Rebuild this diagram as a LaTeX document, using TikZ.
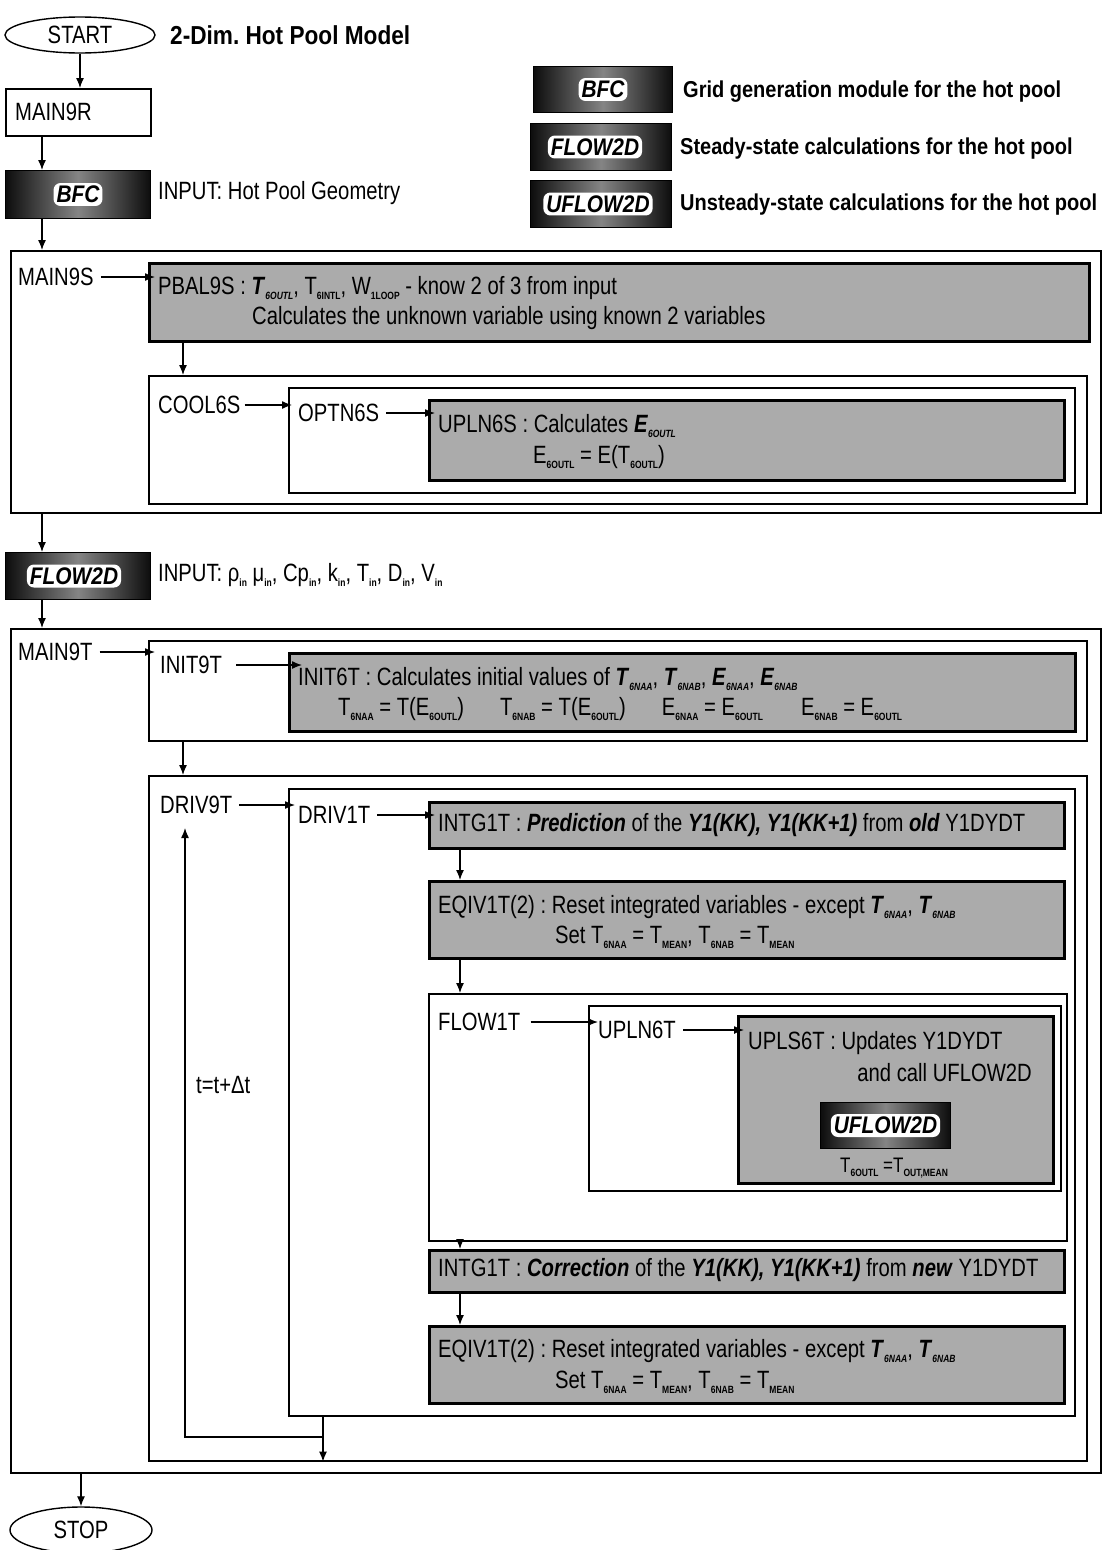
\documentclass[tikz,border=0pt]{standalone}
\usepackage{fontspec}
\setmainfont[FakeStretch=0.81]{Liberation Sans}
\newfontfamily\bfam[FakeStretch=0.87]{Liberation Sans}
\usetikzlibrary{shapes.geometric,arrows.meta}
\frenchspacing
\newcommand\subtxt[1]{\raisebox{-0.35ex}{\fontsize{10.5}{10.5}\selectfont\bfseries #1}}
\newcommand\bit[1]{\textbf{\textit{#1}}}
\tikzset{
 x=1pt,y=-1pt,
 wbox/.style={draw, line width=1.6pt, fill=white, anchor=north west, inner sep=0pt},
 gbox/.style={draw, line width=2.6pt, fill=black!33, anchor=north west, inner sep=0pt},
 mbox/.style={anchor=north west, inner sep=0pt, left color=black!95, right color=black!95, middle color=black!48, draw=black, line width=1pt},
 mlabel/.style={fill=white, rounded corners=7pt, inner sep=3pt, font=\bfam\fontsize{24}{24}\selectfont\bfseries\itshape},
 txt/.style={anchor=west, inner sep=0pt, font=\fontsize{25}{25}\selectfont},
 btxt/.style={anchor=west, inner sep=0pt, font=\bfam\fontsize{23}{23}\selectfont\bfseries},
 arr/.style={-{Latex[length=10pt,width=8pt]}, line width=1.3pt},
 term/.style={ellipse, draw, line width=1.4pt, inner sep=0pt, font=\fontsize{25}{25}\selectfont},
}
\begin{document}
\begin{tikzpicture}
\fill[white] (0,0) rectangle (1105,1550);
\useasboundingbox (0,0) rectangle (1105,1550);

% ---------- top part ----------
\node[term, minimum width=150pt, minimum height=36pt] (start) at (80,35) {START};
\node[btxt, font=\bfam\fontsize{26}{26}\selectfont\bfseries] (title) at (170,35) {2-Dim. Hot Pool Model};

\node[wbox, minimum width=145pt, minimum height=47pt] (main9r) at (5,88) {};
\node[txt] (main9rT) at (15,112) {MAIN9R};
\draw[arr] (start.south) -- (start.south |- main9r.north);

\node[mbox, minimum width=145pt, minimum height=48pt] (bfc) at (5,170) {};
\node[mlabel] (bfcL) at (bfc.center) {BFC};
\node[txt] (bfcIn) at (158,193) {INPUT: Hot Pool Geometry};
\coordinate (c1) at ([xshift=37pt]main9r.south west);
\draw[arr] (c1) -- (c1 |- bfc.north);

% legend
\node[mbox, minimum width=139pt, minimum height=46pt] (lg1) at (533,66) {};
\node[mlabel] (lg1L) at (lg1.center) {BFC};
\node[btxt] (lg1T) at (683,92) {Grid generation module for the hot pool};
\node[mbox, minimum width=141pt, minimum height=47pt] (lg2) at (530,123) {};
\node[mlabel] (lg2L) at ([xshift=-6pt]lg2.center) {FLOW2D};
\node[btxt] (lg2T) at (680,149) {Steady-state calculations for the hot pool};
\node[mbox, minimum width=141pt, minimum height=47pt] (lg3) at (530,180) {};
\node[mlabel] (lg3L) at ([xshift=-3pt]lg3.center) {UFLOW2D};
\node[btxt] (lg3T) at (680,205) {Unsteady-state calculations for the hot pool};

% ---------- MAIN9S ----------
\node[wbox, minimum width=1090pt, minimum height=262pt] (main9s) at (10,250) {};
\coordinate (c2) at ([xshift=37pt]bfc.south west);
\draw[arr] (c2) -- (c2 |- main9s.north);
\node[txt] (main9sT) at (18,277) {MAIN9S};
\node[gbox, minimum width=940pt, minimum height=78pt] (pbal) at (148,262) {};
\node[txt] (pbalA) at (158,288) {PBAL9S : \bit{T}\subtxt{\itshape 6OUTL}, T\subtxt{6INTL}, W\subtxt{1LOOP} - know 2 of 3 from input};
\node[txt] (pbalB) at (252,318) {Calculates the unknown variable using known 2 variables};
\draw[arr] ([xshift=7pt]main9sT.east) -- ([xshift=7pt]main9sT.east -| pbal.west);

\node[wbox, minimum width=938pt, minimum height=128pt] (cool) at (148,375) {};
\coordinate (c3) at ([xshift=35pt]pbal.south west);
\draw[arr] (c3) -- (c3 |- cool.north);
\node[txt] (coolT) at (158,405) {COOL6S};
\node[wbox, minimum width=786pt, minimum height=105pt] (optn) at (288,387) {};
\draw[arr] ([xshift=4pt]coolT.east) -- ([xshift=4pt]coolT.east -| optn.west);
\node[txt] (optnT) at (298,413) {OPTN6S};
\node[gbox, minimum width=635pt, minimum height=80pt] (upln) at (428,399) {};
\draw[arr] ([xshift=7pt]optnT.east) -- ([xshift=7pt]optnT.east -| upln.west);
\node[txt] (uplnA) at (438,426) {UPLN6S : Calculates \bit{E}\subtxt{\itshape 6OUTL}};
\node[txt] (uplnB) at (533,457) {E\subtxt{6OUTL} = E(T\subtxt{6OUTL})};

% ---------- FLOW2D ----------
\node[mbox, minimum width=145pt, minimum height=47pt] (flow2d) at (5,552) {};
\node[mlabel] (flow2dL) at ([xshift=-4pt]flow2d.center) {FLOW2D};
\node[txt] (flowIn) at (158,575) {INPUT: ρ\subtxt{in} μ\subtxt{in}, Cp\subtxt{in}, k\subtxt{in}, T\subtxt{in}, D\subtxt{in}, V\subtxt{in}};
\coordinate (c4) at (42,512);
\draw[arr] (c4) -- (c4 |- flow2d.north);

% ---------- MAIN9T ----------
\node[wbox, minimum width=1090pt, minimum height=844pt] (main9t) at (10,628) {};
\coordinate (c5) at ([xshift=37pt]flow2d.south west);
\draw[arr] (c5) -- (c5 |- main9t.north);
\node[txt] (main9tT) at (18,652) {MAIN9T};
\node[wbox, minimum width=938pt, minimum height=100pt] (init9t) at (148,640) {};
\draw[arr] ([xshift=7pt]main9tT.east) -- ([xshift=7pt]main9tT.east -| init9t.west);
\node[txt] (init9tT) at (160,665) {INIT9T};
\node[gbox, minimum width=786pt, minimum height=78pt] (init6t) at (288,652) {};
\draw[arr] ([xshift=14pt]init9tT.east) -- ([xshift=14pt]init9tT.east -| init6t.west);
\node[txt] (init6tA) at (298,679) {INIT6T : Calculates initial values of \bit{T}\subtxt{\itshape 6NAA}, \bit{T}\subtxt{\itshape 6NAB}, \bit{E}\subtxt{\itshape 6NAA}, \bit{E}\subtxt{\itshape 6NAB}};
\node[txt] (init6tB) at (338,709) {T\subtxt{6NAA} = T(E\subtxt{6OUTL})\hspace{36pt}T\subtxt{6NAB} = T(E\subtxt{6OUTL})\hspace{36pt}E\subtxt{6NAA} = E\subtxt{6OUTL}\hspace{38pt}E\subtxt{6NAB} = E\subtxt{6OUTL}};

\node[wbox, minimum width=938pt, minimum height=685pt] (driv9t) at (148,775) {};
\coordinate (c6) at ([xshift=35pt]init9t.south west);
\draw[arr] (c6) -- (c6 |- driv9t.north);
\node[txt] (driv9tT) at (160,805) {DRIV9T};
\node[wbox, minimum width=786pt, minimum height=627pt] (driv1t) at (288,788) {};
\draw[arr] ([xshift=7pt]driv9tT.east) -- ([xshift=7pt]driv9tT.east -| driv1t.west);
\node[txt] (driv1tT) at (298,815) {DRIV1T};

\node[gbox, minimum width=635pt, minimum height=46pt] (intgA) at (428,801) {};
\draw[arr] ([xshift=7pt]driv1tT.east) -- ([xshift=7pt]driv1tT.east -| intgA.west);
\node[txt] (intgAT) at (438,825) {INTG1T : \bit{Prediction} of the \bit{Y1(KK), Y1(KK+1)} from \bit{old} Y1DYDT};

\node[gbox, minimum width=635pt, minimum height=77pt] (eqivA) at (428,880) {};
\node[txt] (eqivA1) at (438,907) {EQIV1T(2) : Reset integrated variables - except \bit{T}\subtxt{\itshape 6NAA}, \bit{T}\subtxt{\itshape 6NAB}};
\node[txt] (eqivA2) at (555,937) {Set T\subtxt{6NAA} = T\subtxt{MEAN}, T\subtxt{6NAB} = T\subtxt{MEAN}};

\node[wbox, minimum width=638pt, minimum height=247pt] (flow1t) at (428,993) {};
\node[txt] (flow1tT) at (438,1022) {FLOW1T};
\node[wbox, minimum width=472pt, minimum height=185pt] (upln6t) at (588,1005) {};
\draw[arr] ([xshift=10pt]flow1tT.east) -- ([xshift=10pt]flow1tT.east -| upln6t.west);
\node[txt] (upln6tT) at (598,1030) {UPLN6T};
\node[gbox, minimum width=315pt, minimum height=167pt] (upls) at (737,1015) {};
\draw[arr] ([xshift=7pt]upln6tT.east) -- ([xshift=7pt]upln6tT.east -| upls.west);
\node[txt] (uplsA) at (748,1043) {UPLS6T : Updates Y1DYDT};
\node[txt, anchor=east] (uplsB) at (1032,1073) {and call UFLOW2D};
\node[mbox, minimum width=130pt, minimum height=46pt] (uflow) at (820,1102) {};
\node[mlabel] (uflowL) at (uflow.center) {UFLOW2D};
\node[txt, font=\fontsize{21}{21}\selectfont] (uplsC) at (840,1168) {T\subtxt{6OUTL} =T\subtxt{OUT,MEAN}};

\node[gbox, minimum width=635pt, minimum height=42pt] (intgB) at (428,1249) {};
\node[txt] (intgBT) at (438,1270) {INTG1T : \bit{Correction} of the \bit{Y1(KK), Y1(KK+1)} from \bit{new} Y1DYDT};

\node[gbox, minimum width=635pt, minimum height=77pt] (eqivB) at (428,1325) {};
\node[txt] (eqivB1) at (438,1351) {EQIV1T(2) : Reset integrated variables - except \bit{T}\subtxt{\itshape 6NAA}, \bit{T}\subtxt{\itshape 6NAB}};
\node[txt] (eqivB2) at (555,1382) {Set T\subtxt{6NAA} = T\subtxt{MEAN}, T\subtxt{6NAB} = T\subtxt{MEAN}};

% vertical arrows at x=460
\coordinate (v1) at ([xshift=32pt]intgA.south west);
\draw[arr] (v1) -- (v1 |- eqivA.north);
\coordinate (v2) at ([xshift=32pt]eqivA.south west);
\draw[arr] (v2) -- (v2 |- flow1t.north);
\coordinate (v3) at ([xshift=32pt]flow1t.south west);
\draw[arr] (v3) -- (v3 |- intgB.north);
\coordinate (v4) at ([xshift=32pt]intgB.south west);
\draw[arr] (v4) -- (v4 |- eqivB.north);

% loop
\coordinate (jn) at ([xshift=35pt]driv1t.south west);
\draw[arr] (jn) -- (jn |- driv9t.south);
\coordinate (lp) at (185,1437);
\coordinate (ltop) at (185,828);
\draw[arr] (jn |- lp) -- (lp) -- (ltop);
\node[txt] (dt) at (196,1085) {t=t+Δt};

% stop
\node[term, minimum width=142pt, minimum height=46pt] (stop) at (81,1530) {STOP};
\draw[arr] (stop.north |- main9t.south) -- (stop.north);
\end{tikzpicture}
\end{document}
